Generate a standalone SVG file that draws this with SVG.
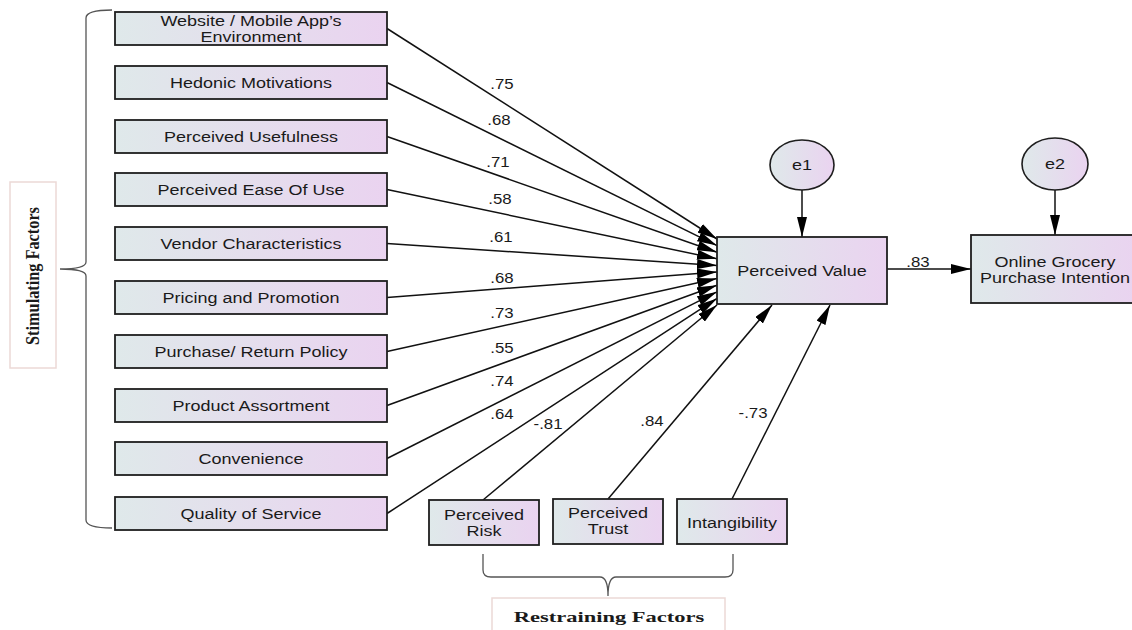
<svg xmlns="http://www.w3.org/2000/svg" width="1132" height="630" viewBox="0 0 1132 630">
<defs>
  <linearGradient id="boxfill" x1="0" y1="0" x2="1" y2="0">
    <stop offset="0" stop-color="#dfe9ea"/>
    <stop offset="1" stop-color="#ead3f0"/>
  </linearGradient>
  <marker id="ah" viewBox="0 0 20 10" refX="20" refY="5" markerWidth="20" markerHeight="10" markerUnits="userSpaceOnUse" orient="auto">
    <path d="M0,0 L20,5 L0,10 z" fill="#000"/>
  </marker>
  <style>
    .box { fill: url(#boxfill); stroke: #1e1e1e; stroke-width: 1.8; }
    .ell { fill: url(#boxfill); stroke: #1e1e1e; stroke-width: 1.6; }
    .t { font-family: "Liberation Sans", Arial, sans-serif; font-size: 15px; fill: #1a1a1a; text-anchor: middle; }
    .lbl { font-family: "Liberation Sans", Arial, sans-serif; font-size: 14px; fill: #1a1a1a; text-anchor: middle; }
    .grp { font-family: "Liberation Serif", "Times New Roman", serif; font-weight: bold; font-size: 15px; fill: #1a1a1a; text-anchor: middle; }
    .con { stroke: #111; stroke-width: 1.5; fill: none; marker-end: url(#ah); }
    .brace { stroke: #555; stroke-width: 1.3; fill: none; }
    .gbox { fill: #fff; stroke: #ecd9d6; stroke-width: 1.5; }
  </style>
</defs>
<rect x="0" y="0" width="1132" height="630" fill="#fff"/>

<!-- braces and group labels -->
<g id="stimulating-group">
  <path class="brace" d="M112,10 Q86,10 86,18 L86,262 Q86,269 60,269 Q86,269 86,276 L86,520 Q86,528 112,528"/>
  <rect class="gbox" x="10" y="182" width="46" height="186"/>
  <text class="grp" transform="translate(38.5,276) scale(1.2,1.086) rotate(-90)">Stimulating Factors</text>
</g>
<g id="restraining-group">
  <path class="brace" d="M483,554 L483,570 Q483,577 491,577 L600,577 Q608,577 608,596 Q608,577 616,577 L725,577 Q733,577 733,570 L733,554"/>
  <rect class="gbox" x="492" y="598" width="233" height="40"/>
  <text class="grp" transform="translate(609,622) scale(1.5,1)">Restraining Factors</text>
</g>

<!-- connectors -->
<g id="connectors">
  <line class="con" x1="387" y1="28.5" x2="717" y2="239"/>
  <line class="con" x1="387" y1="82.5" x2="717" y2="245.6"/>
  <line class="con" x1="387" y1="136.5" x2="717" y2="252.2"/>
  <line class="con" x1="387" y1="189.5" x2="717" y2="258.8"/>
  <line class="con" x1="387" y1="243.5" x2="717" y2="265.4"/>
  <line class="con" x1="387" y1="297.5" x2="717" y2="272"/>
  <line class="con" x1="387" y1="351.5" x2="717" y2="278.6"/>
  <line class="con" x1="387" y1="405.5" x2="717" y2="285.2"/>
  <line class="con" x1="387" y1="458.5" x2="717" y2="291.8"/>
  <line class="con" x1="387" y1="513.5" x2="717" y2="298.4"/>
  <line class="con" x1="483" y1="500" x2="717" y2="305"/>
  <line class="con" x1="608" y1="499" x2="772" y2="305"/>
  <line class="con" x1="732" y1="499" x2="830" y2="305"/>
  <line class="con" x1="802" y1="190" x2="802" y2="237"/>
  <line class="con" x1="1055" y1="190" x2="1055" y2="235"/>
  <line class="con" x1="887" y1="269" x2="971" y2="269"/>
  <text class="lbl" transform="translate(502,89) scale(1.2,1)">.75</text>
  <text class="lbl" transform="translate(499,125) scale(1.2,1)">.68</text>
  <text class="lbl" transform="translate(498,167) scale(1.2,1)">.71</text>
  <text class="lbl" transform="translate(500,204) scale(1.2,1)">.58</text>
  <text class="lbl" transform="translate(501,242) scale(1.2,1)">.61</text>
  <text class="lbl" transform="translate(502,283) scale(1.2,1)">.68</text>
  <text class="lbl" transform="translate(502,318) scale(1.2,1)">.73</text>
  <text class="lbl" transform="translate(502,353) scale(1.2,1)">.55</text>
  <text class="lbl" transform="translate(502,386) scale(1.2,1)">.74</text>
  <text class="lbl" transform="translate(502,419) scale(1.2,1)">.64</text>
  <text class="lbl" transform="translate(548,429) scale(1.2,1)">-.81</text>
  <text class="lbl" transform="translate(652,426) scale(1.2,1)">.84</text>
  <text class="lbl" transform="translate(753,418) scale(1.2,1)">-.73</text>
  <text class="lbl" transform="translate(918,267) scale(1.2,1)">.83</text>
</g>

<!-- stimulating factor nodes -->
<g id="website-env">
  <rect class="box" x="115" y="12" width="272" height="33"/>
  <text class="t" transform="translate(251,0) scale(1.2,1)"><tspan x="0" y="26">Website / Mobile App’s</tspan><tspan x="0" y="42">Environment</tspan></text>
</g>
<g id="hedonic">
  <rect class="box" x="115" y="66" width="272" height="33"/>
  <text class="t" transform="translate(251,88) scale(1.2,1)">Hedonic Motivations</text>
</g>
<g id="usefulness">
  <rect class="box" x="115" y="120" width="272" height="33"/>
  <text class="t" transform="translate(251,142) scale(1.2,1)">Perceived Usefulness</text>
</g>
<g id="ease-of-use">
  <rect class="box" x="115" y="173" width="272" height="33"/>
  <text class="t" transform="translate(251,195) scale(1.2,1)">Perceived Ease Of Use</text>
</g>
<g id="vendor">
  <rect class="box" x="115" y="227" width="272" height="33"/>
  <text class="t" transform="translate(251,249) scale(1.2,1)">Vendor Characteristics</text>
</g>
<g id="pricing">
  <rect class="box" x="115" y="281" width="272" height="33"/>
  <text class="t" transform="translate(251,303) scale(1.2,1)">Pricing and Promotion</text>
</g>
<g id="return-policy">
  <rect class="box" x="115" y="335" width="272" height="33"/>
  <text class="t" transform="translate(251,357) scale(1.2,1)">Purchase/ Return Policy</text>
</g>
<g id="assortment">
  <rect class="box" x="115" y="389" width="272" height="33"/>
  <text class="t" transform="translate(251,411) scale(1.2,1)">Product Assortment</text>
</g>
<g id="convenience">
  <rect class="box" x="115" y="442" width="272" height="33"/>
  <text class="t" transform="translate(251,464) scale(1.2,1)">Convenience</text>
</g>
<g id="service-quality">
  <rect class="box" x="115" y="497" width="272" height="33"/>
  <text class="t" transform="translate(251,519) scale(1.2,1)">Quality of Service</text>
</g>

<!-- restraining factor nodes -->
<g id="risk">
  <rect class="box" x="429" y="500" width="110" height="45"/>
  <text class="t" transform="translate(484,0) scale(1.2,1)"><tspan x="0" y="520">Perceived</tspan><tspan x="0" y="536">Risk</tspan></text>
</g>
<g id="trust">
  <rect class="box" x="553" y="499" width="110" height="45"/>
  <text class="t" transform="translate(608,0) scale(1.2,1)"><tspan x="0" y="518">Perceived</tspan><tspan x="0" y="534">Trust</tspan></text>
</g>
<g id="intangibility">
  <rect class="box" x="677" y="499" width="110" height="45"/>
  <text class="t" transform="translate(732,528) scale(1.2,1)">Intangibility</text>
</g>

<!-- outcome nodes -->
<g id="perceived-value">
  <rect class="box" x="717" y="237" width="170" height="67"/>
  <text class="t" transform="translate(802,276) scale(1.2,1)">Perceived Value</text>
</g>
<g id="e1">
  <ellipse class="ell" cx="802" cy="165" rx="32" ry="25"/>
  <text class="t" transform="translate(802,170) scale(1.2,1)">e1</text>
</g>
<g id="purchase-intention">
  <rect class="box" x="971" y="235" width="168" height="68"/>
  <text class="t" transform="translate(1055,0) scale(1.2,1)"><tspan x="0" y="267">Online Grocery</tspan><tspan x="0" y="283">Purchase Intention</tspan></text>
</g>
<g id="e2">
  <ellipse class="ell" cx="1055" cy="164" rx="33" ry="26"/>
  <text class="t" transform="translate(1055,169) scale(1.2,1)">e2</text>
</g>
</svg>
